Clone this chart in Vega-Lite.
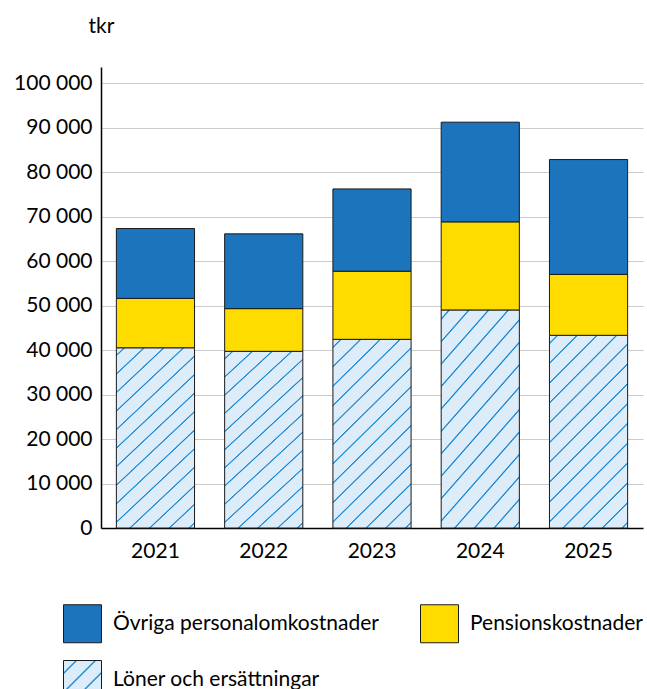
{
  "$schema": "https://vega.github.io/schema/vega-lite/v6.json",
  "width": 542,
  "height": 461,
  "autosize": {"type": "none"},
  "padding": {"left": 101, "top": 67, "right": 4, "bottom": 161},
  "config": {
    "font": "Lato",
    "view": {"stroke": null},
    "axis": {"labelColor": "#000", "titleColor": "#000", "labelFont": "Lato", "titleFont": "Lato"},
    "legend": {"labelColor": "#000", "labelFont": "Lato"}
  },
  "data": {
    "values": [
      {"år": "2021", "kategori": "Löner och ersättningar", "värde": 40500},
      {"år": "2021", "kategori": "Pensionskostnader", "värde": 11100},
      {"år": "2021", "kategori": "Övriga personalomkostnader", "värde": 15700},
      {"år": "2022", "kategori": "Löner och ersättningar", "värde": 39700},
      {"år": "2022", "kategori": "Pensionskostnader", "värde": 9600},
      {"år": "2022", "kategori": "Övriga personalomkostnader", "värde": 16800},
      {"år": "2023", "kategori": "Löner och ersättningar", "värde": 42400},
      {"år": "2023", "kategori": "Pensionskostnader", "värde": 15300},
      {"år": "2023", "kategori": "Övriga personalomkostnader", "värde": 18500},
      {"år": "2024", "kategori": "Löner och ersättningar", "värde": 49000},
      {"år": "2024", "kategori": "Pensionskostnader", "värde": 19800},
      {"år": "2024", "kategori": "Övriga personalomkostnader", "värde": 22400},
      {"år": "2025", "kategori": "Löner och ersättningar", "värde": 43300},
      {"år": "2025", "kategori": "Pensionskostnader", "värde": 13700},
      {"år": "2025", "kategori": "Övriga personalomkostnader", "värde": 25800}
    ]
  },
  "mark": {"type": "bar", "strokeWidth": 1},
  "encoding": {
    "x": {
      "field": "år",
      "type": "ordinal",
      "scale": {"paddingInner": 0.278, "paddingOuter": 0.142},
      "axis": {"title": null, "labelAngle": 0, "ticks": false, "domainColor": "#000", "domainWidth": 1.5, "labelFontSize": 21, "labelPadding": 12}
    },
    "y": {
      "field": "värde",
      "type": "quantitative",
      "stack": "zero",
      "scale": {"domain": [0, 103600], "nice": false},
      "axis": {
        "title": "tkr",
        "titleAngle": 0,
        "titleX": 0,
        "titleY": -35,
        "titleAlign": "center",
        "titleBaseline": "alphabetic",
        "titleFontWeight": "normal",
        "titleFontSize": 21,
        "values": [0, 10000, 20000, 30000, 40000, 50000, 60000, 70000, 80000, 90000, 100000],
        "labelExpr": "replace(format(datum.value, ',d'), ',', ' ')",
        "labelFontSize": 21,
        "labelPadding": 9,
        "ticks": false,
        "domainColor": "#000",
        "domainWidth": 1.5,
        "gridColor": "#cccccc",
        "gridWidth": 1
      }
    },
    "order": {"field": "kategori", "sort": "ascending"},
    "stroke": {"value": "#1a1a1a"},
    "color": {
      "field": "kategori",
      "type": "nominal",
      "scale": {
        "domain": ["Övriga personalomkostnader", "Pensionskostnader", "Löner och ersättningar"],
        "range": [
          "#1c75bc",
          "#ffdc00",
          {"expr": "{gradient: 'linear', x1: 0, y1: 0, x2: 1, y2: 1, stops: [{offset: 0, color: '#dcedf9'}, {offset: 0.15, color: '#dcedf9'}, {offset: 0.164, color: '#1f8ad6'}, {offset: 0.176, color: '#1f8ad6'}, {offset: 0.19, color: '#dcedf9'}, {offset: 0.40, color: '#dcedf9'}, {offset: 0.414, color: '#1f8ad6'}, {offset: 0.426, color: '#1f8ad6'}, {offset: 0.44, color: '#dcedf9'}, {offset: 0.64, color: '#dcedf9'}, {offset: 0.654, color: '#1f8ad6'}, {offset: 0.666, color: '#1f8ad6'}, {offset: 0.68, color: '#dcedf9'}, {offset: 0.89, color: '#dcedf9'}, {offset: 0.904, color: '#1f8ad6'}, {offset: 0.916, color: '#1f8ad6'}, {offset: 0.93, color: '#dcedf9'}, {offset: 1, color: '#dcedf9'}]}"}
        ]
      },
      "condition": {
        "test": "datum.kategori === 'Löner och ersättningar'",
        "value": {
          "gradient": "linear",
          "x1": 0, "y1": 0, "x2": 0.493, "y2": 1.208,
          "stops": [
            {"offset": 0, "color": "#dcedf9"},
            {"offset": 0.025, "color": "#dcedf9"}, {"offset": 0.0285, "color": "#1f8ad6"}, {"offset": 0.0315, "color": "#1f8ad6"}, {"offset": 0.035, "color": "#dcedf9"},
            {"offset": 0.098, "color": "#dcedf9"}, {"offset": 0.1015, "color": "#1f8ad6"}, {"offset": 0.1045, "color": "#1f8ad6"}, {"offset": 0.108, "color": "#dcedf9"},
            {"offset": 0.171, "color": "#dcedf9"}, {"offset": 0.1745, "color": "#1f8ad6"}, {"offset": 0.1775, "color": "#1f8ad6"}, {"offset": 0.181, "color": "#dcedf9"},
            {"offset": 0.244, "color": "#dcedf9"}, {"offset": 0.2475, "color": "#1f8ad6"}, {"offset": 0.2505, "color": "#1f8ad6"}, {"offset": 0.254, "color": "#dcedf9"},
            {"offset": 0.317, "color": "#dcedf9"}, {"offset": 0.3205, "color": "#1f8ad6"}, {"offset": 0.3235, "color": "#1f8ad6"}, {"offset": 0.327, "color": "#dcedf9"},
            {"offset": 0.390, "color": "#dcedf9"}, {"offset": 0.3935, "color": "#1f8ad6"}, {"offset": 0.3965, "color": "#1f8ad6"}, {"offset": 0.400, "color": "#dcedf9"},
            {"offset": 0.463, "color": "#dcedf9"}, {"offset": 0.4665, "color": "#1f8ad6"}, {"offset": 0.4695, "color": "#1f8ad6"}, {"offset": 0.473, "color": "#dcedf9"},
            {"offset": 0.536, "color": "#dcedf9"}, {"offset": 0.5395, "color": "#1f8ad6"}, {"offset": 0.5425, "color": "#1f8ad6"}, {"offset": 0.546, "color": "#dcedf9"},
            {"offset": 0.609, "color": "#dcedf9"}, {"offset": 0.6125, "color": "#1f8ad6"}, {"offset": 0.6155, "color": "#1f8ad6"}, {"offset": 0.619, "color": "#dcedf9"},
            {"offset": 0.682, "color": "#dcedf9"}, {"offset": 0.6855, "color": "#1f8ad6"}, {"offset": 0.6885, "color": "#1f8ad6"}, {"offset": 0.692, "color": "#dcedf9"},
            {"offset": 0.755, "color": "#dcedf9"}, {"offset": 0.7585, "color": "#1f8ad6"}, {"offset": 0.7615, "color": "#1f8ad6"}, {"offset": 0.765, "color": "#dcedf9"},
            {"offset": 0.828, "color": "#dcedf9"}, {"offset": 0.8315, "color": "#1f8ad6"}, {"offset": 0.8345, "color": "#1f8ad6"}, {"offset": 0.838, "color": "#dcedf9"},
            {"offset": 0.901, "color": "#dcedf9"}, {"offset": 0.9045, "color": "#1f8ad6"}, {"offset": 0.9075, "color": "#1f8ad6"}, {"offset": 0.911, "color": "#dcedf9"},
            {"offset": 0.974, "color": "#dcedf9"}, {"offset": 0.9775, "color": "#1f8ad6"}, {"offset": 0.9805, "color": "#1f8ad6"}, {"offset": 0.984, "color": "#dcedf9"},
            {"offset": 1, "color": "#dcedf9"}
          ]
        }
      },
      "legend": {
        "orient": "none",
        "legendX": -38,
        "legendY": 537,
        "direction": "horizontal",
        "columns": 2,
        "title": null,
        "symbolType": "square",
        "symbolSize": 1444,
        "symbolStrokeWidth": 1,
        "symbolOpacity": 1,
        "labelFontSize": 21,
        "labelOffset": 11,
        "labelLimit": 400,
        "rowPadding": 13,
        "columnPadding": 39,
        "padding": 0
      }
    }
  }
}
